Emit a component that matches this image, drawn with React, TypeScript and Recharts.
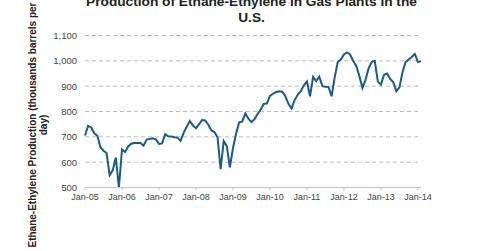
import { LineChart, Line, XAxis, YAxis, CartesianGrid } from 'recharts';

// monthly production, Jan-05 .. Feb-14 (thousand barrels per day)
const production = [
    705, 743, 737, 714, 704, 660, 645, 636, 549, 568, 618, 500,
    650, 640, 662, 673, 676, 676, 676, 665, 689, 692, 694, 690,
    672, 674, 710, 702, 701, 698, 697, 684, 716, 740, 762, 745,
    734, 750, 766, 765, 748, 725, 719, 698, 572, 683, 663, 580,
    655, 712, 757, 760, 792, 772, 758, 770, 790, 808, 830, 832,
    862, 870, 877, 880, 878, 860, 830, 812, 845, 866, 880, 903,
    918, 860, 937, 920, 937, 900, 898, 897, 860, 935, 995, 1005,
    1025, 1033, 1025, 1000, 980, 940, 893, 925, 970, 995, 1000, 918,
    906, 945, 950, 928, 916, 880, 895, 955, 995, 1005, 1015, 1027,
    995, 999,
];

const xTickLabels = ['Jan-05', 'Jan-06', 'Jan-07', 'Jan-08', 'Jan-09', 'Jan-10', 'Jan-11', 'Jan-12', 'Jan-13', 'Jan-14'];
const yTicks = [500, 600, 700, 800, 900, 1000, 1100];

const chartData = production.map((v, i) => ({ m: i, value: v }));
const xTicks = xTickLabels.map((_, i) => i * 12);

const FONT = '"Liberation Sans", Arial, sans-serif';

export default function App() {
    return (
        <div style={{ position: 'absolute', left: 0, top: 0, width: 480, height: 251, overflow: 'hidden', background: '#fff', fontFamily: FONT }}>
            <div style={{
                position: 'absolute', left: 0, width: 503, top: -6.25, textAlign: 'center',
                fontSize: 13.7, lineHeight: '16px', fontWeight: 'bold', color: '#222'
            }}>
                Production of Ethane-Ethylene in Gas Plants in the<br />U.S.
            </div>
            <div style={{
                position: 'absolute', left: 37.5 - 130, top: 125 - 11, width: 260, height: 22,
                transform: 'rotate(-90deg)', textAlign: 'center',
                fontSize: 10, lineHeight: '11px', fontWeight: 'bold', color: '#222', whiteSpace: 'nowrap'
            }}>
                Ethane-Ethylene Production (thousands barrels per<br />day)
            </div>
            <LineChart width={480} height={251} data={chartData} margin={{ top: 35.5, right: 59, left: 0, bottom: 0 }}>
                <CartesianGrid vertical={false} stroke="#bdbdbd" strokeDasharray="4 3" />
                <XAxis
                    dataKey="m"
                    type="number"
                    domain={[0, 109]}
                    ticks={xTicks}
                    interval={0}
                    tickFormatter={(v) => xTickLabels[v / 12]}
                    stroke="#c4c4c4"
                    tickSize={3}
                    tickMargin={3}
                    height={63.5}
                    tick={{ fill: '#444', fontSize: 9, fontFamily: FONT }}
                />
                <YAxis
                    domain={[500, 1100]}
                    ticks={yTicks}
                    interval={0}
                    width={85}
                    axisLine={false}
                    tickLine={false}
                    tickFormatter={(v) => v.toLocaleString('en-US')}
                    tick={{ fill: '#444', fontSize: 9.5, fontFamily: FONT }}
                />
                <Line
                    type="linear"
                    dataKey="value"
                    stroke="#1c5b86"
                    strokeWidth={2}
                    dot={false}
                    isAnimationActive={false}
                />
            </LineChart>
        </div>
    );
}
